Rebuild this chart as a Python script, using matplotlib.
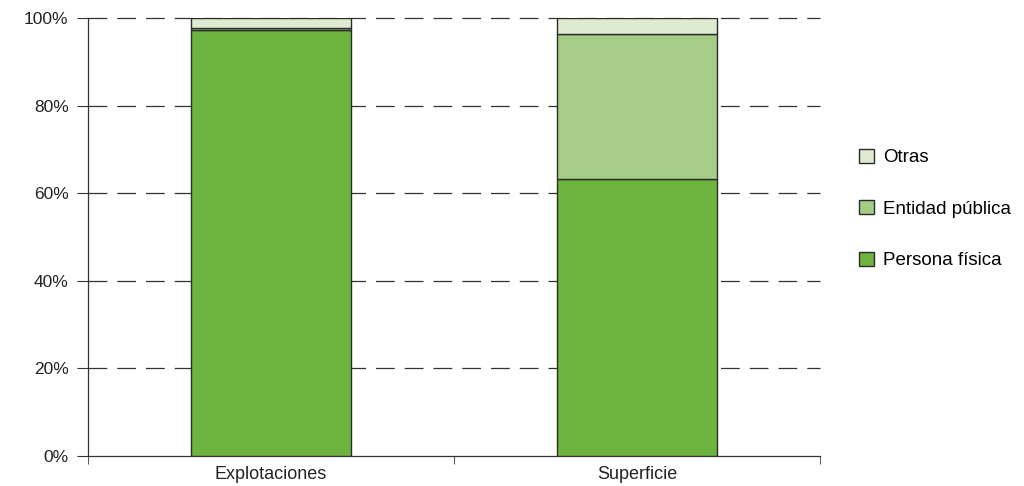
import matplotlib.pyplot as plt
from matplotlib.patches import Patch

categorias = ['Explotaciones', 'Superficie']
persona_fisica = [97.3, 63.2]
entidad_publica = [0.4, 33.1]
otras = [2.3, 3.7]

colores = {'Persona física': '#6db33f', 'Entidad pública': '#a6cd86', 'Otras': '#deebd0'}
borde = '#2b2b2b'

plt.rcParams['font.family'] = ['Liberation Sans', 'DejaVu Sans']

fig = plt.figure(figsize=(10.24, 4.86), dpi=100)
ax = fig.add_axes([0.0859, 0.0617, 0.7149, 0.9013])

x = [0.5, 1.5]
ancho = 0.435
base2 = [a + b for a, b in zip(persona_fisica, entidad_publica)]
ax.bar(x, persona_fisica, ancho, color=colores['Persona física'], edgecolor=borde, linewidth=1, zorder=3)
ax.bar(x, entidad_publica, ancho, bottom=persona_fisica, color=colores['Entidad pública'],
       edgecolor=borde, linewidth=1, zorder=3)
ax.bar(x, otras, ancho, bottom=base2, color=colores['Otras'], edgecolor=borde, linewidth=1, zorder=3)

ax.set_xlim(0, 2)
ax.set_ylim(0, 100)
ax.set_yticks(range(0, 101, 20))
ax.set_yticklabels([f'{v}%' for v in range(0, 101, 20)], fontsize=12.5, color='#222222')
ax.set_xticks(x)
ax.set_xticklabels(categorias, fontsize=13, color='#222222')
ax.set_xticks([0, 1, 2], minor=True)
ax.tick_params(axis='x', which='major', length=0, pad=7)
ax.tick_params(axis='x', which='minor', length=6, direction='out', color='#333333')
ax.tick_params(axis='y', length=8, direction='out', color='#333333', pad=6)

for v in range(20, 101, 20):
    ax.axhline(v, color='#333333', linewidth=0.9, dashes=(15, 8), zorder=1, clip_on=False)

for s in ['top', 'right']:
    ax.spines[s].set_visible(False)
for s in ['left', 'bottom']:
    ax.spines[s].set_color('#333333')
    ax.spines[s].set_linewidth(0.9)

handles = [Patch(facecolor=colores[k], edgecolor=borde, label=k)
           for k in ['Otras', 'Entidad pública', 'Persona física']]
fig.legend(handles=handles, loc='center left', bbox_to_anchor=(0.822, 0.57), frameon=False,
           fontsize=13.5, handlelength=0.8, handleheight=0.8, handletextpad=0.5, labelspacing=1.8)

fig.savefig('out.png', dpi=100)
